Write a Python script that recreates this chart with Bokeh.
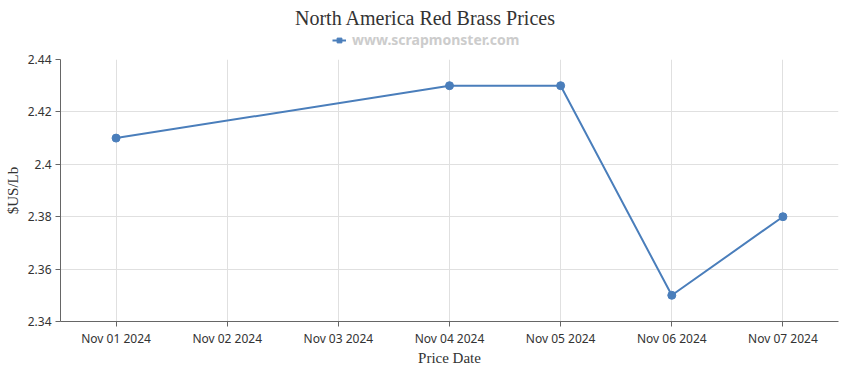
from bokeh.plotting import figure
from bokeh.models import FactorRange, Range1d, FixedTicker, Legend, LegendItem, Label
from bokeh.layouts import column
from bokeh.embed import file_html
from bokeh.resources import INLINE

# ---- data ----
dates = ["Nov 01 2024", "Nov 02 2024", "Nov 03 2024", "Nov 04 2024",
         "Nov 05 2024", "Nov 06 2024", "Nov 07 2024"]
price_dates = ["Nov 01 2024", "Nov 04 2024", "Nov 05 2024", "Nov 06 2024", "Nov 07 2024"]
prices = [2.41, 2.43, 2.43, 2.35, 2.38]
y_ticks = [2.34, 2.36, 2.38, 2.4, 2.42, 2.44]
y_tick_labels = ["2.34", "2.36", "2.38", "2.4", "2.42", "2.44"]
title_text = "North America Red Brass Prices"
series_name = "www.scrapmonster.com"

color = "#4A7EBB"
sans = "Noto Sans"
serif = "Liberation Serif"
nan = float("nan")

W, HH, HM = 850, 50, 320
FL, FR = 60, 838  # frame edges shared by both stacked plots (aligned by the column)

# ---- header: title + legend ----
hdr = figure(width=W, height=HH, x_range=Range1d(FL, FR), y_range=Range1d(0, HH),
             x_axis_type=None, y_axis_type=None, output_backend="svg",
             toolbar_location=None, title=None,
             min_border_left=FL, min_border_right=W - FR, min_border_top=0, min_border_bottom=0)
hdr.outline_line_color = None
hdr.xgrid.visible = False
hdr.ygrid.visible = False

hdr.add_layout(Label(x=W / 2, y=HH - 17, text=title_text, text_align="center",
                     text_baseline="middle", text_font=serif, text_font_size="20px",
                     text_color="#333333"))

h_line = hdr.line([nan], [nan], line_color=color, line_width=2)
h_sq = hdr.scatter([nan], [nan], marker="square", size=7, fill_color=color, line_color=color)
legend = Legend(items=[LegendItem(label=series_name, renderers=[h_line, h_sq])],
                location=(332 - FL, 1), orientation="horizontal",
                background_fill_alpha=0, border_line_color=None,
                label_text_font=sans, label_text_font_size="14px",
                label_text_font_style="bold", label_text_color="#cccccc",
                glyph_width=14, glyph_height=12, label_standoff=6,
                padding=0, margin=0, spacing=0, label_height=16)
hdr.add_layout(legend, "center")

# ---- main chart ----
p = figure(width=W, height=HM, x_range=FactorRange(factors=dates),
           y_range=Range1d(2.34, 2.44), output_backend="svg", title=None,
           toolbar_location=None, min_border_left=FL, min_border_right=W - FR,
           min_border_top=9, min_border_bottom=49)
p.outline_line_color = None

p.line(price_dates, prices, line_color=color, line_width=2)
p.scatter(price_dates, prices, size=8, fill_color=color, line_color=color)

for ax in (p.xaxis[0], p.yaxis[0]):
    ax.axis_line_color = "#666666"
    ax.major_tick_line_color = "#666666"
    ax.major_tick_out = 5
    ax.major_tick_in = 0
    ax.minor_tick_line_color = None
    ax.major_label_text_font = sans
    ax.major_label_text_font_size = "12px"
    ax.major_label_text_color = "#333333"
    ax.axis_label_text_font = serif
    ax.axis_label_text_font_size = "15px"
    ax.axis_label_text_font_style = "normal"
    ax.axis_label_text_color = "#333333"

p.xaxis.axis_label = "Price Date"
p.xaxis.major_label_standoff = 3
p.xaxis.axis_label_standoff = 0
p.yaxis.axis_label = "$US/Lb"
p.yaxis.ticker = FixedTicker(ticks=y_ticks)
p.yaxis.major_label_overrides = {t_: l for t_, l in zip(y_ticks, y_tick_labels)}
p.yaxis.major_label_standoff = 4
p.yaxis.axis_label_standoff = 4

p.xgrid.grid_line_color = "#e0e0e0"
p.ygrid.grid_line_color = "#e0e0e0"
p.ygrid.ticker = FixedTicker(ticks=y_ticks)

layout = column(hdr, p, spacing=0)
open("out.html", "w").write(file_html(layout, INLINE))
